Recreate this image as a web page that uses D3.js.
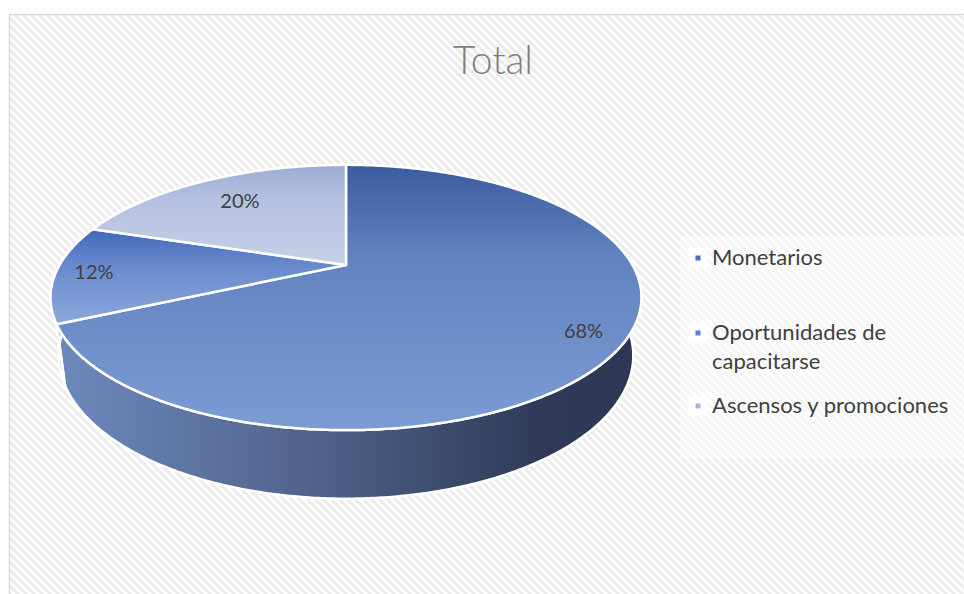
<!DOCTYPE html>
<html>
<head>
<meta charset="utf-8">
<script src="https://cdn.jsdelivr.net/npm/d3@7"></script>
<style>
  html, body { margin: 0; padding: 0; background: #ffffff; }
  svg { display: block; }
</style>
</head>
<body>
<svg id="chart" width="964" height="594"></svg>
<script>
// ---- data ----
const categories = ["Monetarios", "Oportunidades de capacitarse", "Ascensos y promociones"];
const values = [68, 12, 20];
const legendLines = [["Monetarios"], ["Oportunidades de", "capacitarse"], ["Ascensos y promociones"]];
const title = "Total";

// ---- styling ----
const topColors = [["#3a5b9f", "#6283bf", "#7b9cd3"], ["#3f67bb", "#6688cc", "#8ea8dc"], ["#9eacd5", "#b4c0df", "#c8d0e8"]];
const wallColors = [["#6e8abd", "#4b5d84", "#2f3b58", "#2c3753"], ["#9db3df", "#8aa4d6", "#7c96c9", "#6f89bc"], ["#b4c0df", "#a6b2d4", "#98a5c9", "#8c99bd"]];
const markerColors = ["#4a6eb0", "#5b80ca", "#a9b6db"];
const labelRadius = [0.87, 0.87, 0.72];
const fontFamily = "Lato, 'Open Sans', sans-serif";

const svg = d3.select("#chart");
const defs = svg.append("defs");

// hatched chart-area background
const pat = defs.append("pattern").attr("id", "hatch")
  .attr("patternUnits", "userSpaceOnUse").attr("width", 8).attr("height", 8);
pat.append("rect").attr("width", 8).attr("height", 8).attr("fill", "#ffffff");
pat.append("path").attr("d", "M-2,-2 L10,10 M-2,6 L2,10 M6,-2 L10,2")
  .attr("stroke", "#ebebeb").attr("stroke-width", 3);

svg.append("rect").attr("x", 9.5).attr("y", 14.5).attr("width", 964).attr("height", 600)
  .attr("fill", "url(#hatch)").attr("stroke", "#d9d9d9").attr("stroke-width", 1.5);

// title
svg.append("text").attr("x", 493).attr("y", 74).attr("text-anchor", "middle")
  .attr("font-family", fontFamily).attr("font-weight", 300).attr("font-size", 39)
  .attr("fill", "#7f7f7f").text(title);

// ---- 3D pie projection ----
const cx = 346, cy = 265;
const tilt = 25.8 * Math.PI / 180;
const camDist = 3.676, focal = 1053, thickness = 0.225;
const sinT = Math.sin(tilt), cosT = Math.cos(tilt);

function project(theta, r, y) {
  const X = r * Math.sin(theta), Z = r * Math.cos(theta);
  const d = camDist - y * sinT + Z * cosT;
  const v = y * cosT + Z * sinT;
  return [cx + focal * X / d, cy - focal * v / d];
}

function arcPoints(a0, a1, y) {
  const n = Math.max(2, Math.ceil(Math.abs(a1 - a0) / (Math.PI / 360)));
  return d3.range(n + 1).map(i => project(a0 + (a1 - a0) * i / n, 1, y));
}

const pie = d3.pie().sort(null).startAngle(0).endAngle(2 * Math.PI);
const arcs = pie(values);
const line = d3.line();

// gradients
arcs.forEach((a, i) => {
  const pts = [project(0, 0, 0), ...arcPoints(a.startAngle, a.endAngle, 0)];
  const ys = pts.map(p => p[1]);
  const g = defs.append("linearGradient").attr("id", "top" + i)
    .attr("gradientUnits", "userSpaceOnUse")
    .attr("x1", 0).attr("x2", 0).attr("y1", d3.min(ys)).attr("y2", d3.max(ys));
  const offs = [0, 0.35, 1];
  topColors[i].forEach((c, k) => g.append("stop").attr("offset", offs[k]).attr("stop-color", c));

  const w = defs.append("linearGradient").attr("id", "wall" + i)
    .attr("gradientUnits", "userSpaceOnUse")
    .attr("x1", cx - 296).attr("x2", cx + 296).attr("y1", 0).attr("y2", 0);
  const woffs = [0, 0.5, 0.82, 1];
  wallColors[i].forEach((c, k) => w.append("stop").attr("offset", woffs[k]).attr("stop-color", c));
});

// side walls, back slices first
const wallOrder = arcs.map((a, i) => i).sort((p, q) => {
  const depth = a => -Math.cos((a.startAngle + a.endAngle) / 2);
  return depth(arcs[q]) - depth(arcs[p]);
});
const gWall = svg.append("g");
wallOrder.forEach(i => {
  const a = arcs[i];
  const top = arcPoints(a.startAngle, a.endAngle, 0);
  const bottom = arcPoints(a.startAngle, a.endAngle, -thickness).reverse();
  gWall.append("path").attr("d", line([...top, ...bottom]) + "Z")
    .attr("fill", `url(#wall${i})`).attr("stroke", "#ffffff").attr("stroke-width", 2.5)
    .attr("stroke-linejoin", "round");
});

// top faces
const gTop = svg.append("g");
arcs.forEach((a, i) => {
  const pts = [project(0, 0, 0), ...arcPoints(a.startAngle, a.endAngle, 0)];
  gTop.append("path").attr("d", line(pts) + "Z")
    .attr("fill", `url(#top${i})`).attr("stroke", "#ffffff").attr("stroke-width", 2.5)
    .attr("stroke-linejoin", "round");
});

// data labels
const total = d3.sum(values);
arcs.forEach((a, i) => {
  const mid = (a.startAngle + a.endAngle) / 2;
  const p = project(mid, labelRadius[i], 0);
  svg.append("text").attr("x", p[0]).attr("y", p[1]).attr("dy", "0.35em")
    .attr("text-anchor", "middle")
    .attr("font-family", fontFamily).attr("font-size", 20)
    .attr("fill", "#404040").text(Math.round(values[i] / total * 100) + "%");
});

// legend
svg.append("rect").attr("x", 680).attr("y", 236).attr("width", 284).attr("height", 222)
  .attr("fill", "#ffffff").attr("fill-opacity", 0.55);
const rowY = [258, 333, 406];
const gLeg = svg.append("g");
categories.forEach((c, i) => {
  const g = gLeg.append("g").attr("transform", `translate(0,${rowY[i]})`);
  g.append("rect").attr("x", 688).attr("y", -10).attr("width", 20).attr("height", 20).attr("fill", "#ffffff");
  g.append("rect").attr("x", 695.5).attr("y", -2.5).attr("width", 5).attr("height", 5).attr("fill", markerColors[i]);
  const t = g.append("text").attr("x", 712).attr("y", 7)
    .attr("font-family", fontFamily).attr("font-size", 22).attr("fill", "#404040");
  legendLines[i].forEach((ln, k) => t.append("tspan").attr("x", 712).attr("dy", k === 0 ? 0 : 29).text(ln));
});
</script>
</body>
</html>
